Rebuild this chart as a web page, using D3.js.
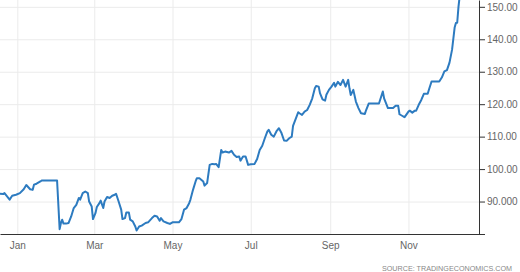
<!DOCTYPE html>
<html>
<head>
<meta charset="utf-8">
<script src="https://cdn.jsdelivr.net/npm/d3@7"></script>
<style>
  body { margin: 0; background: #fff; }
  svg { display: block; font-family: "Liberation Sans", Arial, sans-serif; }
  .grid line { stroke: #ebebeb; stroke-width: 1; }
  .grid path { display: none; }
  .axis path, .axis line { stroke: #333; }
  .axis text { fill: #666; font-size: 10px; }
  .source { fill: #888; font-size: 7.2px; }
</style>
</head>
<body>
<script>
// values
const dates = [
  "2019-12-18","2019-12-21","2019-12-22","2019-12-24","2019-12-26","2019-12-28","2019-12-31",
  "2020-01-03","2020-01-06","2020-01-08","2020-01-11","2020-01-13","2020-01-14","2020-01-16","2020-01-19","2020-01-20",
  "2020-02-01","2020-02-03","2020-02-04","2020-02-05","2020-02-06","2020-02-08","2020-02-10","2020-02-12","2020-02-14",
  "2020-02-16","2020-02-18","2020-02-19","2020-02-21","2020-02-23","2020-02-25","2020-02-26","2020-02-28","2020-02-29",
  "2020-03-02","2020-03-03","2020-03-05","2020-03-06","2020-03-08","2020-03-09","2020-03-11","2020-03-13","2020-03-15",
  "2020-03-17","2020-03-18","2020-03-20","2020-03-22","2020-03-23","2020-03-25","2020-03-26","2020-03-28","2020-03-29","2020-03-31",
  "2020-04-02","2020-04-03","2020-04-05","2020-04-07","2020-04-10","2020-04-12","2020-04-15","2020-04-17","2020-04-19",
  "2020-04-21","2020-04-22","2020-04-24","2020-04-27","2020-04-29",
  "2020-05-01","2020-05-06","2020-05-08","2020-05-10","2020-05-12","2020-05-14","2020-05-15","2020-05-17","2020-05-19",
  "2020-05-20","2020-05-22","2020-05-25","2020-05-26","2020-05-28","2020-05-30",
  "2020-06-01","2020-06-03","2020-06-04","2020-06-06","2020-06-08","2020-06-09","2020-06-11","2020-06-14","2020-06-16",
  "2020-06-18","2020-06-20","2020-06-22","2020-06-23","2020-06-25","2020-06-27","2020-06-29",
  "2020-07-01","2020-07-04","2020-07-06","2020-07-08","2020-07-10","2020-07-12","2020-07-14","2020-07-15","2020-07-17",
  "2020-07-19","2020-07-21","2020-07-23","2020-07-25","2020-07-27","2020-07-29","2020-07-31",
  "2020-08-02","2020-08-03","2020-08-05","2020-08-07","2020-08-08","2020-08-10","2020-08-12","2020-08-14","2020-08-16",
  "2020-08-18","2020-08-20","2020-08-21","2020-08-23","2020-08-24","2020-08-26","2020-08-28","2020-08-29","2020-08-31",
  "2020-09-02","2020-09-04","2020-09-05","2020-09-07","2020-09-09","2020-09-11","2020-09-13","2020-09-15","2020-09-16",
  "2020-09-17","2020-09-19","2020-09-21","2020-09-23","2020-09-25","2020-09-28","2020-09-29",
  "2020-10-01","2020-10-09","2020-10-12","2020-10-13","2020-10-16","2020-10-20","2020-10-22","2020-10-24","2020-10-25",
  "2020-10-28","2020-10-29",
  "2020-11-01","2020-11-02","2020-11-04","2020-11-06","2020-11-07","2020-11-09","2020-11-11","2020-11-13","2020-11-14",
  "2020-11-16","2020-11-17","2020-11-19","2020-11-25","2020-11-27","2020-11-29",
  "2020-12-01","2020-12-03","2020-12-05","2020-12-07","2020-12-08","2020-12-09","2020-12-10","2020-12-11"
];
const prices = [
  92.4,92.3,92.6,91.6,90.6,91.8,92.1,
  92.6,93.8,95.1,93.8,93.6,95.2,95.5,96.2,96.5,
  96.5,81.5,83.4,84.4,83.2,83.2,83.4,85.4,88.0,
  89.0,91.1,90.6,92.6,93.1,92.6,90.0,88.5,84.6,
  86.5,88.3,89.5,90.3,88.0,90.0,91.4,91.1,91.8,
  92.1,92.4,90.0,87.5,84.6,84.9,86.6,86.6,84.4,83.9,
  82.3,81.1,82.3,82.6,83.4,83.6,84.9,85.6,85.4,
  84.1,84.9,83.9,83.4,83.1,
  83.6,83.6,84.6,87.5,88.0,89.5,90.6,93.6,96.2,
  97.2,97.2,96.2,94.9,95.7,101.3,
  101.6,101.5,101.6,100.6,105.9,105.1,105.4,105.1,105.6,
  104.4,103.7,103.9,102.6,103.9,103.9,101.3,
  101.5,101.6,103.1,105.9,107.2,109.5,111.6,112.1,110.6,
  110.0,111.6,112.6,111.1,108.8,108.7,109.5,
  110.0,113.3,115.4,117.5,117.2,116.7,117.7,118.2,119.8,
  121.8,124.9,125.6,125.4,123.4,121.5,121.1,122.9,124.4,
  125.4,126.6,125.4,126.9,125.9,127.5,125.4,127.5,124.9,
  122.8,124.4,120.8,118.8,117.2,117.0,118.2,
  120.2,120.2,123.9,121.8,118.8,118.8,119.5,119.5,116.9,
  116.2,116.0,
  117.7,118.0,117.4,118.0,118.0,119.8,121.3,123.2,123.2,
  123.2,124.5,127.0,127.0,128.2,130.1,
  130.5,132.8,136.8,143.6,145.0,145.1,150.0,153.5
];
const yTicks = [80, 90, 100, 110, 120, 130, 140, 150];
const yTickLabels = ["", "90.000", "100.00", "110.00", "120.00", "130.00", "140.00", "150.00"];
const xTicks = ["2020-01-01", "2020-03-01", "2020-05-01", "2020-07-01", "2020-09-01", "2020-11-01"];
const xTickLabels = ["Jan", "Mar", "May", "Jul", "Sep", "Nov"];

const w = 520, h = 272;
const plot = {left: 0, right: 479, top: 0, bottom: 234};

const parseDate = d3.timeParse("%Y-%m-%d");
const data = dates.map((d, i) => ({date: parseDate(d), value: prices[i]}));

const svg = d3.select("body")
  .append("svg")
  .attr("width", w)
  .attr("height", h);

const x = d3.scaleTime()
  .domain([new Date(2019, 11, 18, 12), new Date(2020, 11, 26)])
  .range([plot.left, plot.right]);

const y = d3.scaleLinear()
  .domain([80, 152.1])
  .range([plot.bottom, plot.top]);

// gridlines
svg.append("g")
  .attr("class", "grid")
  .attr("transform", `translate(${plot.left},0)`)
  .call(d3.axisLeft(y).tickValues(yTicks.slice(1))
    .tickSize(-(plot.right - plot.left)).tickFormat(""));

svg.append("g")
  .attr("class", "grid")
  .attr("transform", `translate(0,${plot.bottom})`)
  .call(d3.axisBottom(x).tickValues(xTicks.map(parseDate))
    .tickSize(-(plot.bottom - plot.top)).tickFormat(""));

svg.append("clipPath")
  .attr("id", "plot-area")
  .append("rect")
  .attr("x", plot.left)
  .attr("y", plot.top)
  .attr("width", plot.right - plot.left)
  .attr("height", plot.bottom - plot.top);

const line = d3.line()
  .x(d => x(d.date))
  .y(d => y(d.value));

svg.append("path")
  .datum(data)
  .attr("clip-path", "url(#plot-area)")
  .attr("fill", "none")
  .attr("stroke", "#2d7bc0")
  .attr("stroke-width", 2)
  .attr("stroke-linejoin", "round")
  .attr("d", line);

// axes
svg.append("g")
  .attr("class", "axis")
  .attr("transform", `translate(0,${plot.bottom})`)
  .call(d3.axisBottom(x).tickValues(xTicks.map(parseDate))
    .tickSize(0).tickSizeOuter(0).tickPadding(8)
    .tickFormat((d, i) => xTickLabels[i]));

svg.append("g")
  .attr("class", "axis")
  .attr("transform", `translate(${plot.right},0)`)
  .call(d3.axisRight(y).tickValues(yTicks)
    .tickSize(6).tickSizeOuter(0).tickPadding(2)
    .tickFormat((d, i) => yTickLabels[i]));

svg.append("text")
  .attr("class", "source")
  .attr("x", 512)
  .attr("y", 271)
  .attr("text-anchor", "end")
  .text("SOURCE: TRADINGECONOMICS.COM");
</script>
</body>
</html>
